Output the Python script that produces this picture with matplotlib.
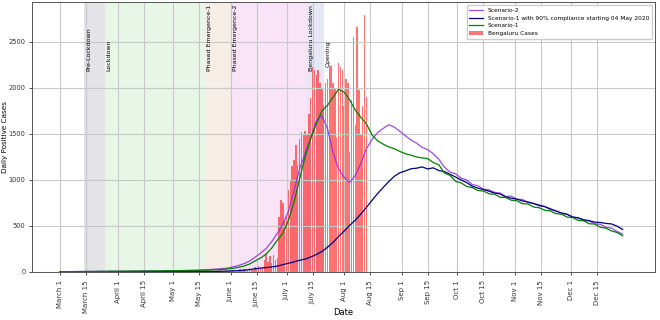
import numpy as np
import pandas as pd
import matplotlib
matplotlib.use('Agg')
import matplotlib.pyplot as plt

# Datos (cada 3 dias desde el 1 de marzo)
scenario2 = [3, 4, 4, 5, 5, 6, 6, 7, 7, 8, 8, 9, 9, 10, 10, 11, 11, 12, 12, 13, 14, 15, 16, 17, 18,
             20, 23, 27, 31, 36, 42, 55, 70, 90, 118, 160, 205, 255, 330, 420, 520, 660, 880, 1120,
             1290, 1460, 1640, 1700, 1560, 1300, 1120, 1030, 975, 1050, 1180, 1340, 1440, 1515, 1560,
             1600, 1575, 1530, 1480, 1435, 1400, 1355, 1330, 1285, 1225, 1140, 1085, 1068, 1020, 1000,
             950, 938, 900, 893, 865, 858, 822, 825, 790, 788, 755, 748, 716, 712, 676, 668, 634, 628,
             596, 590, 560, 553, 524, 518, 486, 476, 440, 412]

scenario1_90 = [1, 1, 1, 1, 1, 1, 2, 2, 2, 2, 2, 2, 3, 3, 3, 3, 3, 3, 3, 4, 4, 4, 4, 4, 5, 5, 5, 6, 7, 8,
                10, 12, 15, 20, 25, 35, 42, 48, 55, 64, 80, 95, 110, 128, 140, 162, 190, 222, 268, 322,
                385, 445, 508, 562, 630, 702, 778, 852, 918, 982, 1040, 1078, 1098, 1122, 1128, 1142,
                1120, 1132, 1102, 1092, 1062, 1032, 1000, 972, 932, 912, 895, 878, 858, 848, 815, 802,
                792, 772, 762, 742, 728, 710, 688, 662, 642, 628, 598, 588, 568, 558, 542, 538, 528,
                522, 498, 462]

scenario1 = [3, 4, 4, 5, 5, 6, 6, 7, 7, 8, 8, 9, 9, 10, 10, 11, 11, 12, 12, 13, 13, 14, 15, 16, 17,
             18, 20, 22, 25, 28, 32, 40, 50, 64, 86, 120, 152, 195, 260, 345, 420, 560, 760, 1010, 1250,
             1450, 1610, 1750, 1810, 1900, 1985, 1955, 1870, 1760, 1680, 1610, 1490, 1425, 1390, 1360,
             1340, 1310, 1285, 1270, 1250, 1240, 1232, 1190, 1165, 1075, 1050, 985, 968, 930, 918, 885,
             880, 850, 845, 812, 810, 780, 775, 742, 740, 706, 698, 672, 664, 634, 630, 597, 591, 562,
             556, 524, 521, 486, 476, 446, 430, 392]

# Casos diarios de Bengaluru, desde el 15 de mayo
blr_cases = [5, 8, 3, 10, 6, 12, 4, 9, 15, 7, 11, 18, 6, 14, 20, 9, 13,
             12, 18, 25, 10, 22, 30, 16, 28, 35, 20, 45, 38, 25, 55, 40, 60,
             40, 55, 130, 200, 110, 170, 100, 185, 130, 150,
             600, 780, 750, 565, 600, 890, 1000, 1150, 1220, 1380, 1160, 1450, 1520, 1500,
             1530, 1490, 1720, 1890, 2230, 2200, 2140, 2190, 2050, 2000, 1815, 2050, 2100,
             2250, 2240, 2050, 2000, 1470, 2270, 2230, 2200, 1800, 2100, 2050, 1300, 1870,
             2555, 1600, 2665, 1980, 1500, 1800, 2790, 1900]

# Fases
phases = ['Pre-Lockdown', 'Lockdown', 'Phased Emergence-1', 'Phased Emergence-2', 'Bengaluru Lockdown']
phase_start = ['2020-03-14', '2020-03-25', '2020-05-18', '2020-06-01', '2020-07-12']
phase_end = ['2020-03-25', '2020-05-18', '2020-06-01', '2020-07-12', '2020-07-21']
phase_color = ['#e4e4e8', '#e8f6e8', '#f6ede7', '#f8e4f6', '#e6e6f6']

tick_dates = ['2020-03-01', '2020-03-15', '2020-04-01', '2020-04-15', '2020-05-01', '2020-05-15',
              '2020-06-01', '2020-06-15', '2020-07-01', '2020-07-15', '2020-08-01', '2020-08-15',
              '2020-09-01', '2020-09-15', '2020-10-01', '2020-10-15', '2020-11-01', '2020-11-15',
              '2020-12-01', '2020-12-15']
tick_labels = ['March 1', 'March 15', 'April 1', 'April 15', 'May 1', 'May 15', 'June 1', 'June 15',
               'July 1', 'July 15', 'Aug 1', 'Aug 15', 'Sep 1', 'Sep 15', 'Oct 1', 'Oct 15',
               'Nov 1', 'Nov 15', 'Dec 1', 'Dec 15']

def fechas(serie, inicio='2020-03-01', paso='3D'):
    return pd.date_range(inicio, periods=len(serie), freq=paso)

fig = plt.figure(figsize=(6.6, 3.2), dpi=100)
ax = fig.add_axes([0.048, 0.15, 0.944, 0.844])

for nombre, ini, fin, col in zip(phases, phase_start, phase_end, phase_color):
    ax.axvspan(pd.Timestamp(ini), pd.Timestamp(fin), color=col, lw=0, zorder=0)
    ax.text(pd.Timestamp(ini) + pd.Timedelta(days=1), 2180, nombre, rotation=90,
            ha='left', va='bottom', fontsize=4.5)
ax.text(pd.Timestamp('2020-07-22'), 2230, 'Opening', rotation=90,
        ha='left', va='bottom', fontsize=4.5)

ax.plot(fechas(scenario2), scenario2, color='blueviolet', lw=0.9, alpha=0.85, label='Scenario-2')
ax.plot(fechas(scenario1_90), scenario1_90, color='navy', lw=0.9,
        label='Scenario-1 with 90% compliance starting 04 May 2020')
ax.plot(fechas(scenario1), scenario1, color='green', lw=0.9, label='Scenario-1')
ax.bar(fechas(blr_cases, '2020-05-15', 'D'), blr_cases, width=0.8, color='red', alpha=0.55,
       label='Bengaluru Cases')

ax.set_xlim(pd.Timestamp('2020-03-01') - pd.Timedelta(days=15.25),
            pd.Timestamp('2020-12-31') + pd.Timedelta(days=15.25))
ax.set_ylim(0, 2935)
ax.set_yticks([0, 500, 1000, 1500, 2000, 2500])
ax.set_xticks(pd.to_datetime(tick_dates))
ax.set_xticklabels(tick_labels, rotation=90)
ax.tick_params(labelsize=5, length=2.5, width=0.6, colors='#333333')
ax.tick_params(axis='y', pad=2, labelsize=4.8)
ax.grid(True, color='#c8c8c8', lw=0.8)
for s in ax.spines.values():
    s.set_color('#555555')
    s.set_linewidth(0.7)

ax.set_xlabel('Date', fontsize=6)
ax.xaxis.set_label_coords(0.5, -0.135)
ax.set_ylabel('Daily Positive Cases', fontsize=5.2, ha='center', va='center')
ax.yaxis.set_label_coords(-0.043, 0.5)
ax.legend(loc='upper right', fontsize=4.2, framealpha=1, borderpad=0.5, handlelength=2.3,
          labelspacing=0.45)

fig.savefig('out.png', dpi=100)
